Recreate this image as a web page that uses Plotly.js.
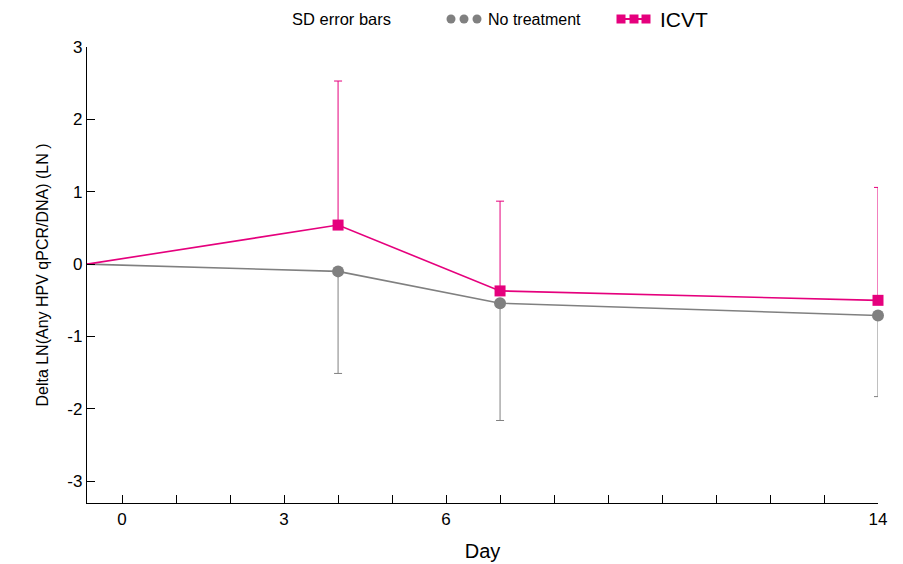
<!DOCTYPE html>
<html><head><meta charset="utf-8">
<script src="https://cdn.plot.ly/plotly-3.0.1.min.js"></script>
<style>body{margin:0;background:#fff}#c{width:903px;height:564px}</style>
</head><body><div id="c"></div>
<script>
const days = [-0.65, 4, 7, 14];
const noTreatment = [0, -0.10, -0.54, -0.71];
const noTreatmentSDminus = [0, 1.41, 1.62, 1.12];
const icvt = [0, 0.54, -0.37, -0.50];
const icvtSDplus = [0, 1.99, 1.24, 1.56];
const xTickVals = [0,1,2,3,4,5,6,7,8,9,10,11,12,13,14];
const xTickText = ['0','','','3','','','6','','','','','','','','14'];
const yTickVals = [-3,-2,-1,0,1,2,3];
const yTickText = ['-3','-2','-1','0','1','2','3'];

const grey = '#808080', pink = '#e5007d';
const font = 'Liberation Sans, Arial, sans-serif';

const traces = [
  {x: days, y: noTreatment, name: 'No treatment', mode: 'lines+markers', cliponaxis: false,
   line: {color: grey, width: 1.6},
   marker: {symbol: 'circle', size: [0,12,12,12], color: grey, opacity: 1, line: {width: 0}},
   error_y: {type: 'data', symmetric: false, array: [0,0,0,0], arrayminus: noTreatmentSDminus,
             color: grey, thickness: 1, width: 4}},
  {x: days, y: icvt, name: 'ICVT', mode: 'lines+markers', cliponaxis: false,
   line: {color: pink, width: 1.6},
   marker: {symbol: 'square', size: [0,11,11,11], color: pink, opacity: 1, line: {width: 0}},
   error_y: {type: 'data', symmetric: false, array: icvtSDplus, arrayminus: [0,0,0,0],
             color: pink, thickness: 1, width: 4}}
];

const shapes = [];
const pw = 791, ph = 456, L = 87, T = 47;
function px(x){return (x - L)/pw;}
function py(y){return (T + ph - y)/ph;}
[451,464,477].forEach(cx=>{
  shapes.push({type:'circle', xref:'paper', yref:'paper', x0:px(cx-4.5), x1:px(cx+4.5), y0:py(19+4.5), y1:py(19-4.5), fillcolor:grey, line:{width:0}});
});
shapes.push({type:'line', xref:'paper', yref:'paper', x0:px(618), x1:px(649), y0:py(19), y1:py(19), line:{color:pink, width:2}});
[621,634,646].forEach(cx=>{
  shapes.push({type:'rect', xref:'paper', yref:'paper', x0:px(cx-4.5), x1:px(cx+4.5), y0:py(19+4.5), y1:py(19-4.5), fillcolor:pink, line:{width:0}});
});

const annotations = [
  {text:'SD error bars', xref:'paper', yref:'paper', x:px(290), y:py(19), xanchor:'left', yanchor:'middle', showarrow:false, font:{family:font, size:16.5, color:'#000'}},
  {text:'No treatment', xref:'paper', yref:'paper', x:px(486), y:py(19), xanchor:'left', yanchor:'middle', showarrow:false, font:{family:font, size:16, color:'#000'}},
  {text:'ICVT', xref:'paper', yref:'paper', x:px(658), y:py(19), xanchor:'left', yanchor:'middle', showarrow:false, font:{family:font, size:21, color:'#000'}}
];

const layout = {
  width: 903, height: 564,
  margin: {l: 87, r: 25, t: 47, b: 61},
  paper_bgcolor: '#fff', plot_bgcolor: '#fff',
  showlegend: false,
  font: {family: font, size: 16, color: '#000'},
  xaxis: {range: [-0.65, 14], tickvals: xTickVals, ticktext: xTickText, ticks: 'inside', ticklen: 8,
          tickcolor: '#000', tickwidth: 1, showline: true, linecolor: '#000', linewidth: 1.2,
          showgrid: false, zeroline: false, tickfont: {size: 17},
          title: {text: 'Day', font: {size: 20}, standoff: 16}},
  yaxis: {range: [-3.3, 3], tickvals: yTickVals, ticktext: yTickText, ticks: 'inside', ticklen: 8,
          tickcolor: '#000', tickwidth: 1, showline: true, linecolor: '#000', linewidth: 1.2,
          showgrid: false, zeroline: false, tickfont: {size: 17},
          title: {text: 'Delta LN(Any HPV qPCR/DNA) (LN )', font: {size: 16}, standoff: 14}},
  shapes: shapes, annotations: annotations
};
Plotly.newPlot('c', traces, layout, {displayModeBar: false, staticPlot: true});
</script></body></html>
